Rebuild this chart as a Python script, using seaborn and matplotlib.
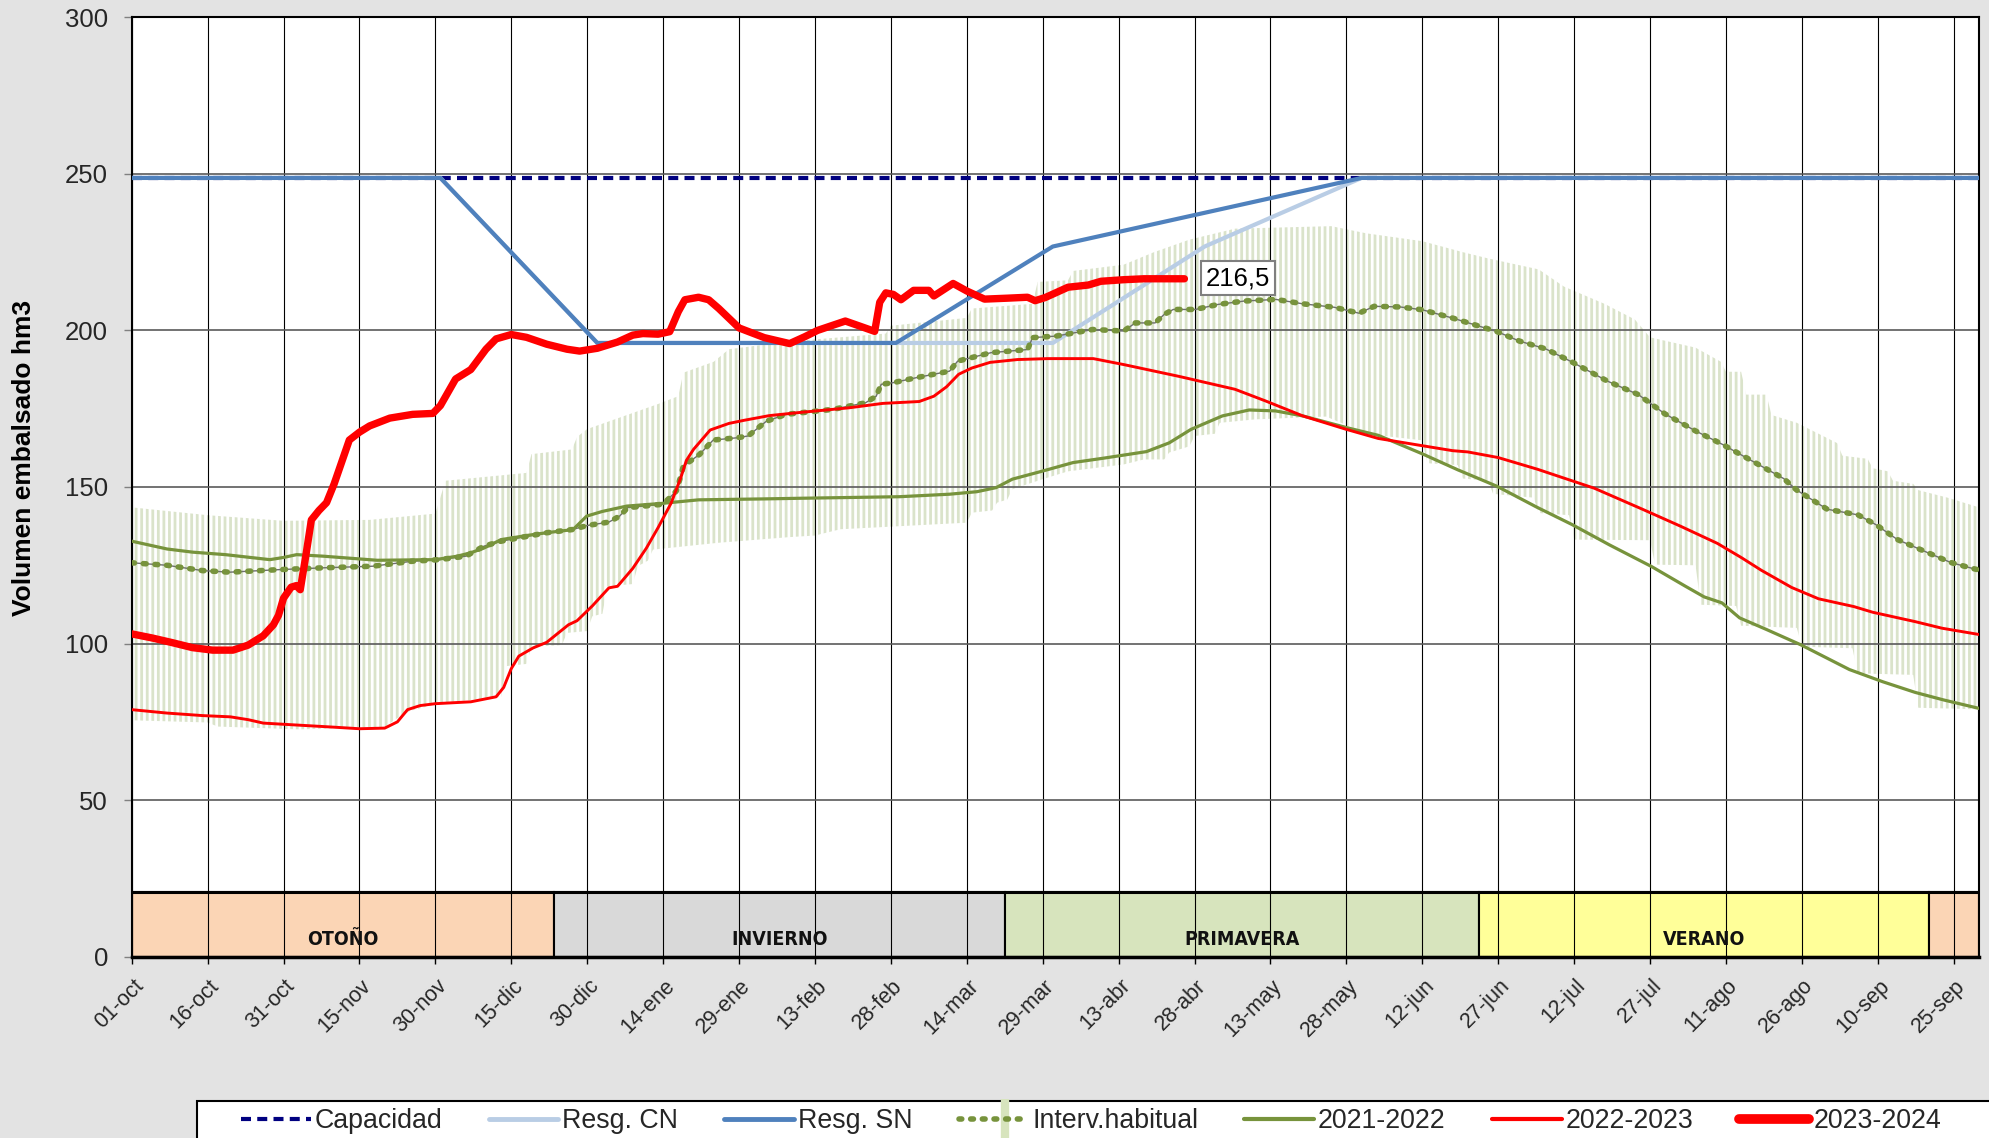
import numpy as np
import pandas as pd
import matplotlib
matplotlib.use("Agg")
import matplotlib.pyplot as plt
import matplotlib.transforms as mtransforms
from matplotlib.patches import Rectangle
from matplotlib.lines import Line2D
from matplotlib.legend_handler import HandlerBase
from matplotlib import font_manager
from matplotlib.font_manager import FontProperties
import seaborn as sns

# ---------------- data (x = days since 01-oct) ----------------
tick_days = list(range(0, 361, 15))
tick_labels = ["01-oct", "16-oct", "31-oct", "15-nov", "30-nov", "15-dic", "30-dic",
               "14-ene", "29-ene", "13-feb", "28-feb", "14-mar", "29-mar", "13-abr",
               "28-abr", "13-may", "28-may", "12-jun", "27-jun", "12-jul", "27-jul",
               "11-ago", "26-ago", "10-sep", "25-sep"]

cap_days = [0, 365]
cap_vals = [248.7, 248.7]

sn_days = [0, 61, 92, 151, 182, 243, 365]
sn_vals = [248.7, 248.7, 196, 196, 226.8, 248.7, 248.7]

cn_days = [0, 61, 92, 182, 212, 243, 365]
cn_vals = [248.7, 248.7, 196, 196, 226.8, 248.7, 248.7]

y2324_days = [0, 4, 8, 12, 16, 20, 23, 26, 28, 29, 30, 31.5, 32.5, 33.3, 34.4, 35.5, 37,
              38.5, 40, 43, 45, 47, 51, 55.5, 59.5, 61, 64, 67, 70, 72, 75, 78, 82, 86,
              88.5, 92, 96, 99, 101, 104, 106.3, 108, 109.3, 112, 114, 116, 120, 125,
              130, 133, 135.5, 141, 144, 146.8, 147.8, 149, 150.5, 152, 154.5, 157.5,
              158.5, 162.3, 165, 168.5, 173, 177, 178.5, 180.5, 185, 189, 191.5, 196,
              200, 208]
y2324_vals = [103.1, 101.8, 100.3, 98.7, 97.9, 97.9, 99.5, 102.5, 106, 109, 114.5, 118,
              118.5, 117.2, 128, 139.5, 142.5, 145, 151, 165, 167.5, 169.5, 172, 173.2,
              173.5, 176, 184.5, 187.5, 194, 197.3, 198.7, 197.8, 195.6, 194, 193.4,
              194.3, 196.3, 198.5, 199, 198.8, 199.6, 206, 209.8, 210.6, 209.8, 207,
              200.8, 197.7, 195.8, 198, 200, 203, 201.3, 199.7, 209, 212, 211.5, 209.8,
              212.8, 212.8, 211, 215, 212.6, 210, 210.3, 210.6, 209.5, 210.5, 213.8,
              214.5, 215.7, 216.2, 216.5, 216.5]

y2223_days = [0, 7, 14, 19.5, 23, 26, 33.5, 40, 45, 50, 52.5, 54.5, 57, 60, 67, 72, 73.5,
              75, 76.5, 79.3, 82, 86.3, 88, 91, 94.3, 96, 99, 101.7, 104, 106.6, 108.5,
              109.6, 111, 114.3, 118, 121, 126, 132, 141.8, 148.4, 155.6, 158.5, 161,
              163.4, 166, 169.6, 175, 181, 190, 196, 207, 218, 224, 231.4, 240, 246.3,
              254.2, 261, 264, 270, 277.7, 289, 298.5, 306, 313.3, 318, 322, 328, 333.3,
              340.3, 344, 352.4, 357.7, 365]
y2223_vals = [78.9, 77.8, 77, 76.6, 75.7, 74.6, 73.9, 73.3, 72.8, 73, 75, 78.9, 80.2, 80.8,
              81.4, 83, 86, 92, 96, 98.6, 100.4, 106, 107.3, 112, 117.8, 118.3, 124, 130.5,
              137, 144.9, 153, 158.5, 162, 168.2, 170.3, 171.3, 172.8, 173.8, 175.3, 176.7,
              177.3, 179, 182, 186, 188, 189.8, 190.7, 191, 191, 189.1, 185.3, 181.2,
              177.5, 172.7, 168.4, 165.5, 163.4, 161.6, 161.2, 159.4, 155.7, 149.6, 142.9,
              137.5, 132, 127.5, 123.4, 117.9, 114.3, 111.8, 110, 107, 104.9, 102.9]

y2122_days = [0, 7, 12, 18.5, 24, 27.3, 30, 32.6, 37.9, 48.5, 60, 64.3, 67, 69.6, 73, 78,
              82, 87.2, 89.9, 93, 97.8, 105, 112, 125, 132, 151.7, 161.6, 167, 170.8, 174,
              180, 186, 192, 200.5, 205, 209.3, 215.5, 220.8, 226, 231.4, 240.2, 246.3,
              255, 262, 269.8, 277.7, 284.6, 292, 300.3, 307, 310.7, 314.2, 317.7, 323,
              329.8, 339.4, 346, 352.4, 358, 365]
y2122_vals = [132.7, 130.2, 129.2, 128.4, 127.4, 126.8, 127.5, 128.4, 127.9, 126.6, 126.8,
              127.9, 129, 130.5, 133.2, 134.5, 135.4, 136.4, 140.7, 142.2, 143.9, 144.8,
              145.9, 146.2, 146.4, 146.9, 147.7, 148.5, 149.8, 152.5, 155.1, 157.8, 159.2,
              161.3, 164.1, 168.4, 172.7, 174.6, 174.3, 172.7, 168.9, 166.5, 160.6, 155.5,
              150.2, 143.5, 138, 131.5, 124.6, 118.3, 114.9, 113, 108.2, 104.5, 99.6, 91.7,
              87.8, 84.4, 82, 79.3]

med_days = [0, 7, 14, 19.4, 29, 38, 47.6, 55.5, 60.8, 66, 69.6, 73, 82, 87, 90, 94.3, 96.4,
            98, 105, 107.6, 108.3, 109, 112.2, 114.9, 119.5, 121.8, 123.4, 125.4, 129.3,
            138.6, 145, 147.1, 148.1, 150.4, 155, 161.6, 163.2, 169.8, 177, 178, 182.7,
            189.9, 196, 198.3, 202.2, 204, 205.8, 210.2, 214.6, 219.9, 226.1, 231.4,
            237.6, 242.5, 245.5, 250.6, 255, 261.1, 269.8, 274.2, 279.4, 284.6, 291.6,
            297.7, 302.9, 309, 314.2, 320.3, 326.4, 329, 335, 341.1, 344.6, 348.9, 354.2,
            359.4, 363.7, 365]
med_vals = [125.8, 125, 123.3, 122.8, 123.6, 124.2, 124.7, 126.3, 126.8, 127.9, 131.1,
            132.7, 135.4, 136.4, 137.7, 138.8, 140.7, 143.4, 144.5, 148.7, 152.4, 156.7,
            160.4, 165, 165.7, 166.3, 168.4, 171, 173.2, 174.8, 176.9, 179, 182.8, 183.3,
            184.9, 187, 190.2, 192.9, 193.9, 197.7, 198.2, 200.3, 199.8, 202.4, 202.4,
            205.1, 206.7, 206.7, 208.3, 209.4, 209.9, 208.5, 207.4, 205.5, 207.7, 207.5,
            206.6, 203.9, 199.6, 196.6, 194.1, 189.9, 183.8, 179.5, 173.4, 167.9, 163.7,
            158.2, 152.7, 149, 142.9, 141.1, 138, 133.2, 129.5, 125.9, 124, 123.5]

band_hi_days = [0, 15, 30, 47, 60, 62, 78, 79, 87, 88, 90, 97, 104, 108, 109, 115, 118,
                130, 134, 149, 150, 165, 166, 178, 179, 185, 186, 196, 202, 209, 218, 237,
                244, 255, 263, 268, 278, 283, 291, 297, 300, 309, 314, 315, 318, 319, 323,
                324, 329, 337, 338, 343, 344, 347, 348, 352, 353, 359, 365]
band_hi_vals = [143.5, 141, 139.2, 139.5, 141.5, 152, 154.5, 160.5, 162, 166, 168.5, 172.5,
                176.5, 179, 186.5, 190, 194, 196.5, 197, 199, 201.5, 204, 207, 208.5, 215.5,
                216, 219, 221, 225, 229, 232.5, 233.3, 231, 228.5, 225, 223, 219.5, 214,
                208.5, 203.5, 197.8, 194.5, 190, 186.8, 186.8, 179.5, 179.5, 173, 170.5,
                164, 160, 159, 156, 155, 152, 151, 149, 146.5, 143.5]

band_lo_days = [0, 15, 17, 33, 50, 52, 55, 61, 73, 74, 78, 79, 85, 86, 90, 91, 93, 94, 99,
                100, 102, 103, 116, 130, 135, 140, 165, 166, 170, 171, 173, 174, 180, 185,
                196, 200, 204, 205, 209, 210, 214, 215, 222, 236, 240, 242, 255, 256, 262,
                263, 268, 269, 277, 278, 284, 285, 300, 301, 309, 310, 317, 318, 329, 330,
                340, 341, 352, 353, 365]
band_lo_vals = [75.5, 74.8, 73.5, 72.6, 73.3, 75.7, 78.5, 81, 83, 92.8, 93.5, 99, 99.5,
                103.4, 104, 108.7, 109.5, 118.3, 119, 124.7, 126.5, 130, 132.2, 134, 134.5,
                136.5, 138.6, 141.8, 142.5, 145, 146, 149.3, 152.5, 155, 157.2, 158.8,
                158.8, 161, 163, 166.3, 167, 170.5, 171.6, 172.5, 169.8, 167.3, 164.9,
                157.6, 157, 152.7, 152, 147.8, 146.6, 141.7, 141, 133.2, 133, 125.2, 125,
                112.4, 112, 105.7, 105, 99, 98.5, 90.5, 90, 79.5, 79]

season_names = ["OTOÑO", "INVIERNO", "PRIMAVERA", "VERANO", ""]
season_start = [0, 83.5, 172.5, 266.3, 355.2]
season_end = [83.5, 172.5, 266.3, 355.2, 365]
season_colors = ["#FBD5B5", "#D9D9D9", "#D7E4BD", "#FFFF99", "#FBD5B5"]

last_label = "216,5"
last_pos = (218.6, 216.7)

legend_labels = ["Capacidad", "Resg. CN", "Resg. SN", "Interv.habitual",
                 "2021-2022", "2022-2023", "2023-2024"]

# ---------------- style ----------------
C_CAP = "#000080"
C_CN = "#B9CDE5"
C_SN = "#4F81BD"
C_OLIVE = "#77933C"
C_BAND = "#DAE3CA"
C_BAND_LEG = "#D7E4BD"
C_RED = "#FF0000"

sns.set_theme(style="white")
plt.rcParams["font.family"] = ["Liberation Sans", "DejaVu Sans"]
plt.rcParams["hatch.linewidth"] = 2.0
plt.rcParams["hatch.color"] = C_BAND


def pick_condensed_bold():
    best = None
    for f in font_manager.fontManager.ttflist:
        nm = f.name
        st = str(f.stretch).lower()
        cond = ("Narrow" in nm or "Condensed" in nm or "condensed" in st)
        if not cond or "Mono" in nm or "Serif" in nm:
            continue
        w = f.weight if isinstance(f.weight, int) else (700 if "bold" in str(f.weight).lower() else 400)
        sty = str(f.style).lower()
        score = (w >= 600) * 10 + (sty == "normal") * 5 + ("Liberation" in nm or "Arial" in nm) * 3
        if best is None or score > best[0]:
            best = (score, f.fname)
    return best[1] if best else None


cond_path = pick_condensed_bold()
if cond_path:
    season_fp = FontProperties(fname=cond_path, size=14)
else:
    season_fp = FontProperties(family="Liberation Sans", weight="bold", size=12.5)


class HandlerInterv(HandlerBase):
    def create_artists(self, legend, orig_handle, xdescent, ydescent, width, height,
                       fontsize, trans):
        x0 = -xdescent
        y = -ydescent + height / 2
        bx = x0 + 0.66 * width
        bar = Line2D([bx, bx], [y - 1.05 * height, y + 1.05 * height], color=C_BAND_LEG,
                     lw=6, solid_capstyle="butt", transform=trans)
        dots = Line2D([x0, x0 + width], [y, y], color=C_OLIVE, lw=4.0,
                      linestyle=(0, (0.5, 1.6)), dash_capstyle="round", transform=trans)
        return [bar, dots]


W, H = 1990, 1138
fig = plt.figure(figsize=(W / 100, H / 100), dpi=100, facecolor="#E3E3E3")
ax_l, ax_r, ax_t, ax_b = 131.7, 1979, 17.3, 956.7
ax = fig.add_axes([ax_l / W, 1 - ax_b / H, (ax_r - ax_l) / W, (ax_b - ax_t) / H])
ax.set_facecolor("white")
ax.set_axisbelow(True)

# seasons
for s, e, c, n in zip(season_start, season_end, season_colors, season_names):
    ax.add_patch(Rectangle((s, 0), e - s, 20.7, facecolor=c, edgecolor="black",
                           lw=1.5, zorder=0.2))
    if n:
        ax.text((s + e) / 2, 5.4, n, ha="center", va="center", fontproperties=season_fp,
                color="#111111", zorder=3)
ax.axhline(20.7, color="black", lw=2.2, zorder=2.5)

# habitual interval band (pale striped)
poly_x = band_hi_days + band_lo_days[::-1]
poly_y = band_hi_vals + band_lo_vals[::-1]
ax.fill(poly_x, poly_y, facecolor="none", edgecolor=C_BAND, hatch="|||", lw=0,
        zorder=0.3)

# grid
ax.xaxis.grid(True, color="black", lw=0.8)
ax.yaxis.grid(True, color="#5A5A5A", lw=1.2)

# lines
ax.plot(cap_days, cap_vals, color=C_CAP, lw=3.0, linestyle=(0, (2.4, 1.5)), zorder=3)
sns.lineplot(x=cn_days, y=cn_vals, ax=ax, color=C_CN, lw=3.0, estimator=None,
             sort=False, zorder=3.1)
sns.lineplot(x=sn_days, y=sn_vals, ax=ax, color=C_SN, lw=3.0, estimator=None,
             sort=False, zorder=3.2)
sns.lineplot(x=med_days, y=med_vals, ax=ax, color="#6E6E6E", lw=1.0, estimator=None,
             sort=False, zorder=3.3)
ax.plot(med_days, med_vals, color=C_OLIVE, lw=4.0, linestyle=(0, (0.5, 1.6)),
        dash_capstyle="round", zorder=3.4)
sns.lineplot(x=y2122_days, y=y2122_vals, ax=ax, color=C_OLIVE, lw=2.3, estimator=None,
             sort=False, zorder=3.5)
sns.lineplot(x=y2223_days, y=y2223_vals, ax=ax, color=C_RED, lw=2.1, estimator=None,
             sort=False, zorder=3.6)
sns.lineplot(x=y2324_days, y=y2324_vals, ax=ax, color=C_RED, lw=5.3, estimator=None,
             sort=False, zorder=3.7, solid_capstyle="round", solid_joinstyle="round")

ax.text(last_pos[0], last_pos[1], last_label, ha="center", va="center", fontsize=18.5,
        color="black", zorder=5,
        bbox=dict(boxstyle="square,pad=0.2", fc="white", ec="#7F7F7F", lw=1.5))

# axes
ax.set_xlim(0, 365)
ax.set_ylim(0, 300)
ax.set_xlabel("")
ax.set_ylabel("")
ax.set_yticks(range(0, 301, 50))
ax.set_xticks(tick_days)
ax.set_xticklabels(tick_labels, rotation=45, ha="right", va="top",
                   rotation_mode="anchor", fontsize=15.5)
ax.tick_params(axis="x", direction="out", length=5.3, width=1, color="black", pad=8,
               bottom=True)
ax.tick_params(axis="y", direction="out", length=6, width=1, color="#808080", pad=11,
               labelsize=18.5, left=True)
off = mtransforms.ScaledTranslation(1 / 100, 0, fig.dpi_scale_trans)
for lbl in ax.get_xticklabels():
    lbl.set_transform(lbl.get_transform() + off)
for side, lw in [("left", 1.5), ("top", 1.5), ("right", 1.5), ("bottom", 2.5)]:
    ax.spines[side].set_visible(True)
    ax.spines[side].set_color("black")
    ax.spines[side].set_linewidth(lw)

fig.text(24 / W, 1 - 458 / H, "Volumen embalsado hm3", rotation=90, ha="center",
         va="center", fontsize=19, fontweight="bold", color="black")

# legend
frame = Rectangle((197 / W, -0.05), 1.0, (1 - 1101 / H) + 0.05, transform=fig.transFigure,
                  facecolor="white", edgecolor="black", lw=1.5, zorder=1)
fig.add_artist(frame)
interv_handle = Line2D([], [], color=C_OLIVE)
handles = [
    Line2D([], [], color=C_CAP, lw=3.0, linestyle=(0, (2.4, 1.5))),
    Line2D([], [], color=C_CN, lw=3.5),
    Line2D([], [], color=C_SN, lw=3.5),
    interv_handle,
    Line2D([], [], color=C_OLIVE, lw=3),
    Line2D([], [], color=C_RED, lw=3),
    Line2D([], [], color=C_RED, lw=7, solid_capstyle="round"),
]
leg = fig.legend(handles, legend_labels, loc="center left",
                 bbox_to_anchor=(241 / W, 1 - 1121 / H), ncol=7, frameon=False,
                 fontsize=19.3, handlelength=2.6, handletextpad=0.15, columnspacing=1.72,
                 borderpad=0, borderaxespad=0,
                 handler_map={interv_handle: HandlerInterv()})
leg.set_zorder(5)

fig.savefig("out.png", dpi=100, facecolor=fig.get_facecolor())
